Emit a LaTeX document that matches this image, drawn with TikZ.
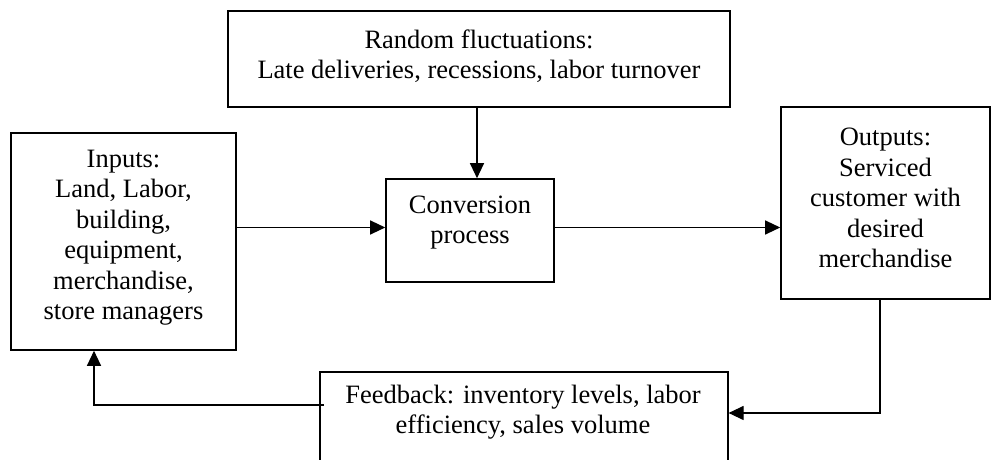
\documentclass[tikz,border=0pt]{standalone}
\usepackage{fontspec}
\setmainfont{Liberation Serif}
\usetikzlibrary{arrows.meta, positioning}

\begin{document}
\begin{tikzpicture}[x=1pt, y=1pt,
  box/.style={draw, line width=1.6pt, inner sep=0pt},
  txt/.style={align=center, inner sep=0pt, font=\fontsize{26.5}{30.5}\selectfont},
  arr/.style={line width=1.2pt, -{Triangle[length=15pt, width=14pt]}}]
\path[use as bounding box, clip] (0,0) rectangle (991,460);

% Random fluctuations on top
\node[box, minimum width=502pt, minimum height=96pt] (rand) at (479,401) {};
\node[txt] (randtext) at ([yshift=3pt]rand.center) {Random fluctuations:\\Late deliveries, recessions, labor turnover};

% Main row: inputs, conversion, outputs
\node[box, minimum width=225pt, minimum height=217pt] (inputs) at (123.5,218.5) {};
\node[txt] (inputstext) at ([yshift=4pt]inputs.center) {Inputs:\\Land, Labor,\\building,\\equipment,\\merchandise,\\store managers};
\node[box, minimum width=168pt, minimum height=103pt] (conv) at (470,229.5) {};
\node[txt] (convtext) at ([yshift=8pt]conv.center) {Conversion\\process};
\node[box, minimum width=209pt, minimum height=192pt] (out) at (885.5,257) {};
\node[txt] (outtext) at ([yshift=5pt]out.center) {Outputs:\\Serviced\\customer with\\desired\\merchandise};

% Feedback box, cut off at the bottom
\node[box, anchor=north west, minimum width=408pt, minimum height=120pt] (fb) at (319,89) {};
\node[txt] (fbtext) at (523,48) {Feedback: inventory levels, labor\\efficiency, sales volume};

% Flow
\draw[arr] ([xshift=-2pt]rand.south) -- ([xshift=-2pt]rand.south |- conv.north);
\draw[arr] ([yshift=3pt]conv.west -| inputs.east) -- ([yshift=3pt]conv.west);
\draw[arr] ([yshift=3pt]conv.east) -- ([yshift=3pt]conv.east -| out.west);

% Feedback loop
\draw[arr] ([xshift=-5.5pt]out.south) |- ([yshift=-42pt]fb.north east);
\draw[arr] ([xshift=5pt, yshift=-34pt]fb.north west) -| ([xshift=-29.5pt]inputs.south);
\end{tikzpicture}
\end{document}
